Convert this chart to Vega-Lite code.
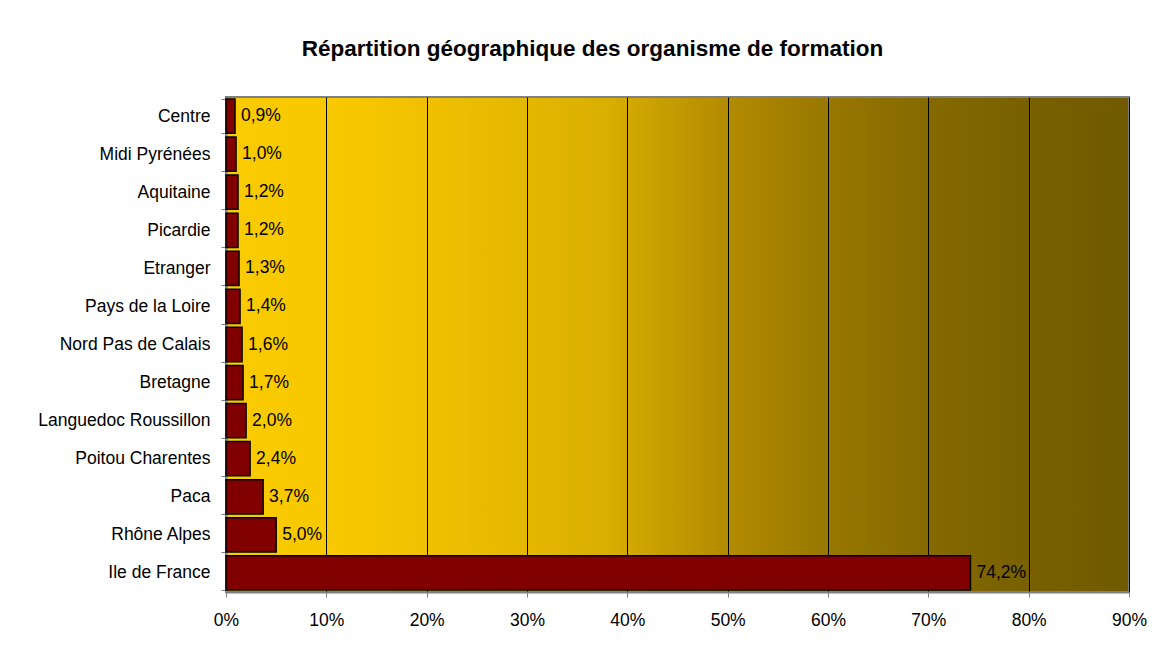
{
  "$schema": "https://vega.github.io/schema/vega-lite/v6.json",
  "autosize": {"type": "none"},
  "width": 903,
  "height": 495,
  "padding": {"left": 226, "top": 97, "right": 25, "bottom": 60},
  "background": "white",
  "config": {
    "font": "Liberation Sans",
    "locale": {
      "number": {"decimal": ",", "thousands": " ", "grouping": [3], "currency": ["", " €"], "percent": "%"}
    }
  },
  "view": {
    "stroke": "#808080",
    "strokeWidth": 2,
    "fill": {
      "gradient": "linear",
      "x1": 0, "y1": 0, "x2": 1, "y2": 0,
      "stops": [
        {"offset": 0, "color": "#FBCB00"},
        {"offset": 0.12, "color": "#F8C800"},
        {"offset": 0.3, "color": "#E8BA00"},
        {"offset": 0.42, "color": "#D9AF00"},
        {"offset": 0.55, "color": "#B48C00"},
        {"offset": 0.67, "color": "#977700"},
        {"offset": 0.78, "color": "#856900"},
        {"offset": 0.89, "color": "#786000"},
        {"offset": 1, "color": "#705A00"}
      ]
    }
  },
  "title": {
    "text": "Répartition géographique des organisme de formation",
    "fontSize": 22.5,
    "fontWeight": "bold",
    "color": "#000000",
    "anchor": "middle",
    "frame": "group",
    "dx": -85,
    "offset": 28
  },
  "data": {
    "values": [
      {"region": "Centre", "part": 0.009},
      {"region": "Midi Pyrénées", "part": 0.010},
      {"region": "Aquitaine", "part": 0.012},
      {"region": "Picardie", "part": 0.012},
      {"region": "Etranger", "part": 0.013},
      {"region": "Pays de la Loire", "part": 0.014},
      {"region": "Nord Pas de Calais", "part": 0.016},
      {"region": "Bretagne", "part": 0.017},
      {"region": "Languedoc Roussillon", "part": 0.020},
      {"region": "Poitou Charentes", "part": 0.024},
      {"region": "Paca", "part": 0.037},
      {"region": "Rhône Alpes", "part": 0.050},
      {"region": "Ile de France", "part": 0.742}
    ]
  },
  "encoding": {
    "y": {
      "field": "region",
      "type": "nominal",
      "sort": null,
      "scale": {"paddingInner": 0.1, "paddingOuter": 0.05},
      "axis": {
        "title": null,
        "domainColor": "#808080",
        "domainWidth": 2,
        "tickColor": "#808080",
        "tickSize": 5,
        "tickBand": "extent",
        "labelFontSize": 17.5,
        "labelColor": "#000000",
        "labelPadding": 11
      }
    },
    "x": {
      "field": "part",
      "type": "quantitative",
      "scale": {"domain": [0, 0.9], "nice": false},
      "axis": {
        "title": null,
        "format": ".0%",
        "values": [0, 0.1, 0.2, 0.3, 0.4, 0.5, 0.6, 0.7, 0.8, 0.9],
        "grid": true,
        "gridColor": "#000000",
        "gridWidth": 1,
        "gridOpacity": 1,
        "domainColor": "#808080",
        "domainWidth": 2,
        "tickColor": "#808080",
        "tickSize": 5,
        "labelFontSize": 17.5,
        "labelColor": "#000000",
        "labelPadding": 14,
        "labelFlush": false
      }
    }
  },
  "layer": [
    {
      "mark": {"type": "bar", "color": "#800000", "stroke": "#000000", "strokeWidth": 1.5}
    },
    {
      "mark": {"type": "text", "align": "left", "baseline": "middle", "dx": 6, "fontSize": 17.5, "color": "#000000"},
      "encoding": {"text": {"field": "part", "type": "quantitative", "format": ".1%"}}
    }
  ]
}
